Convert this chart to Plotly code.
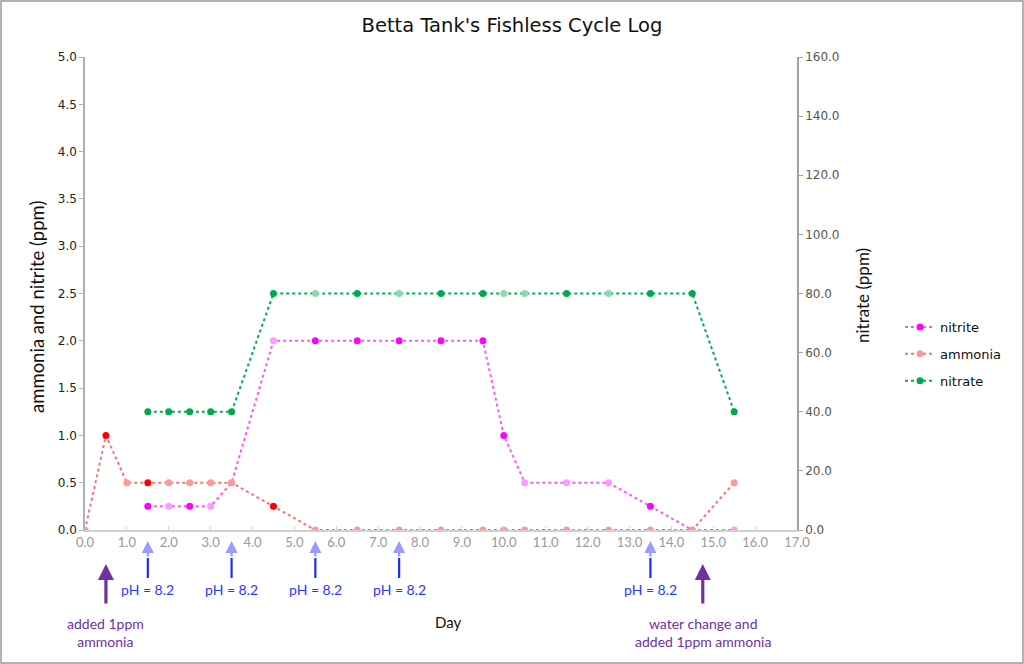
import plotly.graph_objects as go

# ---------------- data ----------------
days_ammonia = [0.0, 0.5, 1.0, 1.5, 2.0, 2.5, 3.0, 3.5, 4.5, 5.5, 6.5, 7.5, 8.5, 9.5, 10.0, 10.5, 11.5, 12.5, 13.5, 14.5, 15.5]
ammonia = [0.0, 1.0, 0.5, 0.5, 0.5, 0.5, 0.5, 0.5, 0.25, 0.0, 0.0, 0.0, 0.0, 0.0, 0.0, 0.0, 0.0, 0.0, 0.0, 0.0, 0.5]

days_nitrite = [1.5, 2.0, 2.5, 3.0, 3.5, 4.5, 5.5, 6.5, 7.5, 8.5, 9.5, 10.0, 10.5, 11.5, 12.5, 13.5, 14.5, 15.5]
nitrite = [0.25, 0.25, 0.25, 0.25, 0.5, 2.0, 2.0, 2.0, 2.0, 2.0, 2.0, 1.0, 0.5, 0.5, 0.5, 0.25, 0.0, 0.0]

days_nitrate = [1.5, 2.0, 2.5, 3.0, 3.5, 4.5, 5.5, 6.5, 7.5, 8.5, 9.5, 10.0, 10.5, 11.5, 12.5, 13.5, 14.5, 15.5]
nitrate = [40, 40, 40, 40, 40, 80, 80, 80, 80, 80, 80, 80, 80, 80, 80, 80, 80, 40]

ph_days = [1.5, 3.5, 5.5, 7.5, 13.5]
ph_label = "pH = 8.2"
dose_days = [0.5, 14.75]
dose_labels = ["added 1ppm<br>ammonia", "water change and<br>added 1ppm ammonia"]

x_ticks = [float(i) for i in range(0, 18)]
left_ticks = [i * 0.5 for i in range(0, 11)]
right_ticks = [i * 20.0 for i in range(0, 9)]

# ---------------- styles ----------------
# shade per point (1 = full colour, 0 = light) as seen in the picture
ammonia_shade = [0, 1, 0, 1, 0, 0, 0, 0, 1, 0, 0, 0, 0, 0, 0, 0, 0, 0, 0, 0, 0]
nitrite_shade = [1, 0, 1, 0, 0, 0, 1, 1, 1, 1, 1, 1, 0, 0, 0, 1, 0, 0]
nitrate_shade = [1, 1, 1, 1, 1, 1, 0, 1, 0, 1, 1, 0, 0, 1, 0, 1, 1, 1]


def shades(flags, dark, light):
    return [dark if f else light for f in flags]


W, H = 1024, 664
L, R, T, B = 85, 227, 57, 134
PW, PH = W - L - R, H - T - B
X_RANGE = [0, 17]


def py(pix):
    """pixel row -> paper y"""
    return (H - B - pix) / PH


def px_from_data(d):
    """data x -> paper x (same linear scale as the x axis)"""
    return (d - X_RANGE[0]) / (X_RANGE[1] - X_RANGE[0])


fig = go.Figure()

fig.add_trace(go.Scatter(
    x=days_nitrite, y=nitrite, name="nitrite", mode="lines+markers", legendgroup="a",
    line=dict(color="#ff55ff", width=2, dash="dot"),
    marker=dict(size=7, color=shades(nitrite_shade, "#ff00ff", "#ff99ff")),
))
fig.add_trace(go.Scatter(
    x=days_ammonia, y=ammonia, name="ammonia", mode="lines+markers", legendgroup="b",
    line=dict(color="#ff7070", width=2, dash="dot"),
    marker=dict(size=7, color=shades(ammonia_shade, "#ff0000", "#ff9999")),
))
fig.add_trace(go.Scatter(
    x=days_nitrate, y=nitrate, name="nitrate", mode="lines+markers", yaxis="y2", legendgroup="c",
    line=dict(color="#00b050", width=2, dash="dot"),
    marker=dict(size=7, color=shades(nitrate_shade, "#00a84f", "#8fd8b0")),
))

annotations = []
shapes = []

# pH arrows (light head, dark shaft)
for d in ph_days:
    annotations.append(dict(
        x=d, y=py(541), xref="x", yref="paper", text="", showarrow=True,
        ax=0, ay=17, arrowhead=2, arrowsize=1.1, arrowwidth=2.2, arrowcolor="#9a9aff",
    ))
    shapes.append(dict(type="line", xref="paper", yref="paper",
                       x0=px_from_data(d), x1=px_from_data(d),
                       y0=py(558), y1=py(578), line=dict(color="#1f2fe8", width=2.2)))
    annotations.append(dict(
        x=d, y=py(589), xref="x", yref="paper", text=ph_label, showarrow=False,
        font=dict(family="Lato", size=14, color="#1f3cff"), xanchor="center", yanchor="middle",
    ))

# dosing arrows
for d, txt in zip(dose_days, dose_labels):
    annotations.append(dict(
        x=d, y=py(564), xref="x", yref="paper", text="", showarrow=True,
        ax=0, ay=41, arrowhead=2, arrowsize=1.0, arrowwidth=3.2, arrowcolor="#7030a0",
    ))
    annotations.append(dict(
        x=d, y=py(632), xref="x", yref="paper", text=txt, showarrow=False,
        font=dict(family="Lato", size=14, color="#7030a0"), xanchor="center", yanchor="middle",
        align="center",
    ))

# axis titles
annotations.append(dict(x=(37 - L) / PW, y=py(307), xref="paper", yref="paper",
                        text="ammonia and nitrite (ppm)", showarrow=False, textangle=-90,
                        xanchor="center", yanchor="middle",
                        font=dict(family="Lato", size=18.5, color="#111")))
annotations.append(dict(x=(862 - L) / PW, y=py(295), xref="paper", yref="paper",
                        text="nitrate (ppm)", showarrow=False, textangle=-90,
                        xanchor="center", yanchor="middle",
                        font=dict(family="Lato", size=17, color="#111")))
annotations.append(dict(x=(448 - L) / PW, y=py(622), xref="paper", yref="paper",
                        text="Day", showarrow=False, xanchor="center", yanchor="middle",
                        font=dict(family="Lato", size=15, color="#111")))

# outer frame
shapes.append(dict(type="rect", xref="paper", yref="paper",
                   x0=(-L + 1) / PW, x1=(W - L - 1) / PW,
                   y0=py(H - 1), y1=py(1),
                   line=dict(color="#9a9a9a", width=1.5)))

fig.update_layout(
    width=W, height=H,
    margin=dict(l=L, r=R, t=T, b=B),
    paper_bgcolor="white", plot_bgcolor="white",
    title=dict(text="Betta Tank's Fishless Cycle Log", x=0.5, xanchor="center",
               y=1 - 25 / H, yanchor="middle",
               font=dict(family="DejaVu Sans", size=19.5, color="#111")),
    xaxis=dict(range=X_RANGE, tickvals=x_ticks, ticktext=[f"{v:.1f}" for v in x_ticks],
               showgrid=False, zeroline=False, showline=True, linecolor="#d0d0d0",
               linewidth=1.5, ticks="inside", ticklen=4, tickcolor="#d0d0d0",
               tickfont=dict(family="Lato", size=13, color="#999999")),
    yaxis=dict(range=[0, 5], tickvals=left_ticks, ticktext=[f"{v:.1f}" for v in left_ticks],
               showgrid=False, zeroline=False, showline=True, linecolor="#b0b0b0",
               linewidth=1.5, ticks="outside", ticklen=4, tickcolor="#b0b0b0",
               tickfont=dict(family="DejaVu Sans", size=12, color="#222")),
    yaxis2=dict(range=[0, 160], tickvals=right_ticks, ticktext=[f"{v:.1f}" for v in right_ticks],
                overlaying="y", side="right", showgrid=False, zeroline=False,
                showline=True, linecolor="#a0a0a0", linewidth=1.5, ticks="outside",
                ticklen=4, tickcolor="#a0a0a0",
                tickfont=dict(family="DejaVu Sans", size=12, color="#555")),
    legend=dict(x=(900 - L) / PW, y=py(312), xanchor="left", yanchor="top",
                font=dict(family="DejaVu Sans", size=13, color="#111"),
                bgcolor="rgba(0,0,0,0)", tracegroupgap=7, itemwidth=30),
    annotations=annotations,
    shapes=shapes,
    showlegend=True,
)

fig.write_html("out.html", config={"displayModeBar": False},
               post_script="document.body.style.margin='0';")
